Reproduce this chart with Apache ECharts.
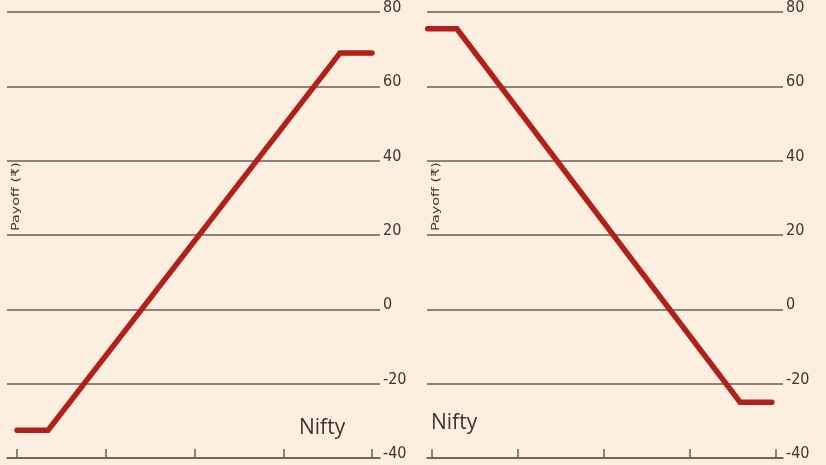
<!DOCTYPE html>
<html>
<head>
<meta charset="utf-8">
<script src="https://cdn.jsdelivr.net/npm/echarts@6/dist/echarts.min.js"></script>
<style>
html,body{margin:0;padding:0;background:#fcefdf;}
#c{width:826px;height:465px;}
</style>
</head>
<body>
<div id="c"></div>
<script>
// Data
const yTicks = [-40, -20, 0, 20, 40, 60, 80];
const niftyTicks = [0, 1, 2, 3, 4];
const niftyLeft = [0, 0.35, 3.64, 4];
const payoffLeft = [-32.5, -32.5, 69, 69];
const niftyRight = [-0.05, 0.29, 3.59, 3.96];
const payoffRight = [75.5, 75.5, -25, -25];
const yName = 'Payoff (₹)';
const xName = 'Nifty';

const font = '"DejaVu Sans Condensed", "Liberation Sans Narrow", sans-serif';
const gridColor = '#675e52';
const textColor = '#3a3530';
const lineColor = '#b1211b';

function xAxis(idx, min, max) {
  return {
    type: 'value', gridIndex: idx, min: min, max: max,
    axisLine: {show: true, onZero: false, lineStyle: {color: gridColor, width: 1.5}},
    axisTick: {show: true, inside: true, length: 9, customValues: niftyTicks,
      lineStyle: {color: gridColor, width: 1.5}},
    axisLabel: {show: false},
    splitLine: {show: false}
  };
}
function yAxis(idx) {
  return {
    type: 'value', gridIndex: idx, position: 'right',
    min: yTicks[0], max: yTicks[yTicks.length - 1], interval: 20,
    axisLine: {show: false}, axisTick: {show: false},
    axisLabel: {color: textColor, fontFamily: font, fontSize: 16, margin: 3,
      verticalAlign: 'bottom', padding: [0, 0, -4, 0],
      formatter: v => String(v)},
    splitLine: {show: true, lineStyle: {color: gridColor, width: 1.5}}
  };
}
function series(idx, xs, ys) {
  return {
    type: 'line', xAxisIndex: idx, yAxisIndex: idx,
    data: xs.map((x, i) => [x, ys[i]]),
    showSymbol: false, silent: true,
    lineStyle: {color: lineColor, width: 5.5, cap: 'round', join: 'miter'}
  };
}

const chart = echarts.init(document.getElementById('c'));
chart.setOption({
  backgroundColor: '#fcefdf',
  animation: false,
  grid: [
    {left: 7, right: 446, top: 11, bottom: 7},
    {left: 427, right: 43, top: 11, bottom: 7}
  ],
  xAxis: [xAxis(0, -0.113, 4.09), xAxis(1, -0.058, 4.09)],
  yAxis: [yAxis(0), yAxis(1)],
  series: [series(0, niftyLeft, payoffLeft), series(1, niftyRight, payoffRight)],
  graphic: [
    {type: 'text', rotation: Math.PI / 2, x: 11, y: 231, scaleX: 1.45,
      style: {text: yName, fill: textColor, font: '11px ' + font}},
    {type: 'text', rotation: Math.PI / 2, x: 431, y: 231, scaleX: 1.45,
      style: {text: yName, fill: textColor, font: '11px ' + font}},
    {type: 'text', x: 299, y: 418,
      style: {text: xName, fill: textColor, font: '21px "Open Sans", sans-serif'}},
    {type: 'text', x: 431, y: 413,
      style: {text: xName, fill: textColor, font: '21px "Open Sans", sans-serif'}}
  ]
});
</script>
</body>
</html>
